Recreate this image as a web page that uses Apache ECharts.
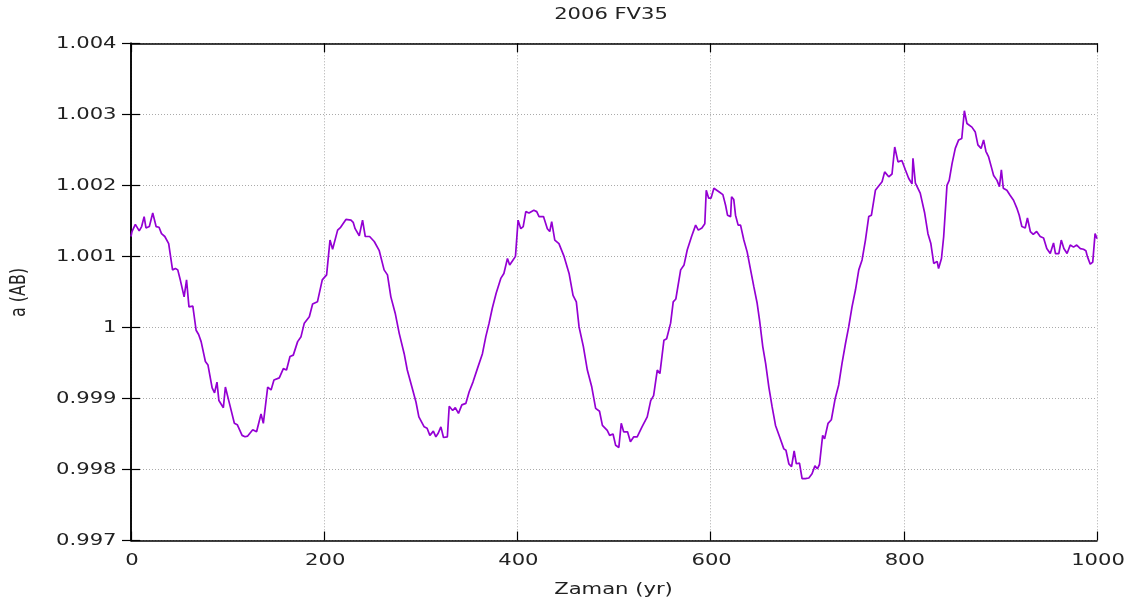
<!DOCTYPE html>
<html>
<head>
<meta charset="utf-8">
<script src="https://cdn.jsdelivr.net/npm/echarts@6/dist/echarts.min.js"></script>
<style>
html,body{margin:0;padding:0;background:#fff;}
#chart{width:1147px;height:605px;}
</style>
</head>
<body>
<div id="chart"></div>
<script>
const chartTitle = '2006 FV35';
const xAxisName = 'Zaman (yr)';
const yAxisName = 'a (AB)';
const xTicks = [0, 200, 400, 600, 800, 1000];
const yTicks = [0.997, 0.998, 0.999, 1.000, 1.001, 1.002, 1.003, 1.004];

const years = [
  0, 1, 4.5, 8.5, 11, 13.6, 15.5, 19, 22.5, 26, 29, 31.6, 35, 39, 43, 46, 48.4, 51, 55, 57.5,
  60, 64, 67.4, 70, 72.6, 77, 79.7, 84, 86.5, 89, 91, 95.6, 97.7, 101.9, 107, 110, 115, 118, 120.8, 126,
  130, 134.6, 137, 141.5, 145, 148, 153.5, 157.7, 161, 164.6, 168, 172.5, 176, 179.4, 184.6, 188, 193, 198, 202.5, 206,
  208.7, 213.9, 217, 222.5, 227.7, 230, 232, 236.3, 239.7, 242.5, 247, 251.8, 257, 262, 265.5, 269, 273.5, 277.6, 282.8, 286,
  290.8, 295, 298, 303.5, 306.5, 309.4, 313, 315.6, 318, 320.8, 323.5, 327.5, 329.4, 333, 335.7, 339, 342.5, 346.6, 350, 354,
  358.6, 363.8, 367.3, 370.7, 374, 378, 382.8, 386, 389.7, 392, 395, 398, 400.7, 403.5, 406, 408.7, 412, 417, 420, 422.4,
  427, 431, 433.5, 435.5, 438.7, 443, 448.3, 453.5, 457.6, 461, 463.8, 468.3, 472.4, 477, 481, 485, 488, 493, 495.5, 499,
  501.7, 505, 507.5, 510, 514, 517, 520.5, 524, 529, 534.4, 538, 541, 544.8, 547.5, 551.7, 554.5, 558.6, 561.3, 564, 569,
  572.5, 575.8, 580.3, 584.5, 587.3, 591, 594, 595.5, 598, 600.5, 603.4, 608.6, 612.7, 615.5, 617.5, 620.7, 621.7, 624, 625.8, 628.5,
  631, 634.4, 637.9, 641.4, 644.8, 648.2, 650.7, 654, 657, 660.3, 663.7, 667.2, 671.4, 675.8, 678, 681, 683.8, 686.5, 688.8, 692,
  694.7, 698, 701.7, 705, 708, 710.5, 712.7, 716, 718, 721.6, 725, 729, 732.6, 736, 739.6, 743, 746.4, 750, 753.4, 756.8,
  760.3, 763.7, 766.5, 770.6, 774, 777.5, 780.2, 784.4, 787.8, 790.6, 794, 798, 801.6, 805, 808.5, 809.5, 812, 817, 821.6, 825,
  828, 831, 834.5, 836, 839, 841.3, 844.7, 847, 850, 853.3, 856.8, 860, 862.7, 865.4, 870.5, 874, 876.7, 880, 882.6, 885,
  887.8, 890.6, 893, 896.5, 899, 901, 903, 906.7, 910, 913.6, 917, 919.5, 922.2, 925.7, 928, 931, 934, 937.5, 941.2, 944.7,
  948, 951.6, 955, 957, 960.5, 963, 965.7, 969, 972.3, 975.7, 979, 982.8, 986, 988.5, 990, 993, 995.6, 998, 1000
];

const aValues = [
  1.00128, 1.00135, 1.00145, 1.00136, 1.00142, 1.00156, 1.00140, 1.00142, 1.00161, 1.00142, 1.00141, 1.00132, 1.00128, 1.00118, 1.00081, 1.00083, 1.00081, 1.00067, 1.00043, 1.00067,
  1.00029, 1.00030, 0.99996, 0.99990, 0.99980, 0.99952, 0.99947, 0.99915, 0.99908, 0.99923, 0.99897, 0.99887, 0.99916, 0.99893, 0.99865, 0.99863, 0.99848, 0.99846, 0.99847, 0.99856,
  0.99853, 0.99878, 0.99865, 0.99916, 0.99912, 0.99926, 0.99929, 0.99942, 0.99940, 0.99959, 0.99961, 0.99980, 0.99987, 1.00006, 1.00015, 1.00033, 1.00036, 1.00067, 1.00074, 1.00123,
  1.00110, 1.00137, 1.00141, 1.00152, 1.00151, 1.00148, 1.00139, 1.00129, 1.00151, 1.00128, 1.00128, 1.00121, 1.00108, 1.00081, 1.00074, 1.00043, 1.00020, 0.99992, 0.99963, 0.99940,
  0.99916, 0.99895, 0.99874, 0.99860, 0.99858, 0.99848, 0.99854, 0.99846, 0.99851, 0.99860, 0.99845, 0.99846, 0.99889, 0.99883, 0.99887, 0.99879, 0.99891, 0.99893, 0.99909, 0.99923,
  0.99942, 0.99963, 0.99987, 1.00006, 1.00027, 1.00048, 1.00069, 1.00076, 1.00097, 1.00088, 1.00094, 1.00100, 1.00151, 1.00139, 1.00142, 1.00163, 1.00161, 1.00165, 1.00163, 1.00156,
  1.00156, 1.00139, 1.00135, 1.00149, 1.00123, 1.00118, 1.00100, 1.00076, 1.00045, 1.00036, 1.00001, 0.99973, 0.99940, 0.99916, 0.99886, 0.99882, 0.99862, 0.99855, 0.99848, 0.99850,
  0.99834, 0.99831, 0.99865, 0.99853, 0.99853, 0.99839, 0.99846, 0.99846, 0.99860, 0.99874, 0.99897, 0.99904, 0.99940, 0.99935, 0.99982, 0.99984, 1.00006, 1.00036, 1.00040, 1.00081,
  1.00088, 1.00109, 1.00128, 1.00144, 1.00137, 1.00140, 1.00146, 1.00193, 1.00182, 1.00182, 1.00196, 1.00191, 1.00187, 1.00172, 1.00158, 1.00156, 1.00184, 1.00180, 1.00158, 1.00144,
  1.00144, 1.00123, 1.00106, 1.00081, 1.00057, 1.00034, 1.00010, 0.99973, 0.99949, 0.99916, 0.99888, 0.99862, 0.99846, 0.99829, 0.99827, 0.99808, 0.99804, 0.99826, 0.99808, 0.99809,
  0.99787, 0.99787, 0.99788, 0.99794, 0.99805, 0.99801, 0.99807, 0.99848, 0.99843, 0.99865, 0.99870, 0.99900, 0.99919, 0.99949, 0.99977, 1.00001, 1.00029, 1.00053, 1.00081, 1.00095,
  1.00123, 1.00156, 1.00158, 1.00193, 1.00199, 1.00205, 1.00219, 1.00212, 1.00216, 1.00254, 1.00233, 1.00235, 1.00222, 1.00210, 1.00202, 1.00238, 1.00203, 1.00189, 1.00161, 1.00132,
  1.00118, 1.00090, 1.00093, 1.00083, 1.00097, 1.00128, 1.00200, 1.00207, 1.00231, 1.00252, 1.00264, 1.00266, 1.00305, 1.00287, 1.00282, 1.00275, 1.00257, 1.00252, 1.00264, 1.00248,
  1.00240, 1.00226, 1.00214, 1.00207, 1.00198, 1.00222, 1.00196, 1.00193, 1.00186, 1.00179, 1.00168, 1.00158, 1.00142, 1.00140, 1.00154, 1.00135, 1.00131, 1.00135, 1.00128, 1.00126,
  1.00111, 1.00104, 1.00119, 1.00104, 1.00104, 1.00123, 1.00111, 1.00104, 1.00116, 1.00113, 1.00116, 1.00111, 1.00110, 1.00108, 1.00100, 1.00089, 1.00092, 1.00132, 1.00125
];

const seriesData = years.map((x, i) => [x, aValues[i]]);
const fontFamily = '"DejaVu Sans", sans-serif';
const textColor = '#222';
const stretch = 1.32;
const fmtY = v => String(+(+v).toFixed(3));

const chart = echarts.init(document.getElementById('chart'));
const tickStyle = { show: true, inside: true, length: 9, lineStyle: { color: '#000', width: 1.2 } };
const lineAxis = { show: true, lineStyle: { color: '#000', width: 1.5 } };
const gridLine = { show: true, lineStyle: { color: '#aaa', type: [1, 2], width: 1 } };

chart.setOption({
  animation: false,
  backgroundColor: '#ffffff',
  grid: { left: 131, right: 50, top: 43.3, bottom: 64.5, show: false },
  xAxis: [{
    type: 'value', min: xTicks[0], max: xTicks[xTicks.length - 1], interval: 200,
    axisLine: lineAxis, axisTick: tickStyle, axisLabel: { show: false }, splitLine: gridLine
  }, {
    type: 'value', position: 'top', min: xTicks[0], max: xTicks[xTicks.length - 1], interval: 200,
    axisLine: lineAxis, axisTick: tickStyle, axisLabel: { show: false }, splitLine: { show: false }
  }],
  yAxis: [{
    type: 'value', min: yTicks[0], max: yTicks[yTicks.length - 1], interval: 0.001,
    axisLine: lineAxis, axisTick: tickStyle, axisLabel: { show: false }, splitLine: gridLine
  }, {
    type: 'value', position: 'right', min: yTicks[0], max: yTicks[yTicks.length - 1], interval: 0.001,
    axisLine: lineAxis, axisTick: tickStyle, axisLabel: { show: false }, splitLine: { show: false }
  }],
  series: [{
    type: 'line',
    data: seriesData,
    xAxisIndex: 0, yAxisIndex: 0,
    showSymbol: false,
    smooth: false,
    lineStyle: { color: '#9400d3', width: 1.7 },
    itemStyle: { color: '#9400d3' }
  }]
});

function txt(text, x, y, opts) {
  const o = Object.assign({ size: 16, align: 'center', valign: 'middle', rotation: 0, sx: stretch, sy: 1 }, opts || {});
  return {
    type: 'text', x: x, y: y, rotation: o.rotation, scaleX: o.sx, scaleY: o.sy, silent: true,
    style: {
      text: text, fill: textColor, fontFamily: fontFamily, fontSize: o.size,
      align: o.align, verticalAlign: o.valign, textAlign: o.align, textVerticalAlign: o.valign
    }
  };
}

const px = v => chart.convertToPixel({ xAxisIndex: 0 }, v);
const py = v => chart.convertToPixel({ yAxisIndex: 0 }, v);
const plotLeft = px(xTicks[0]);
const plotRight = px(xTicks[xTicks.length - 1]);
const plotTop = py(yTicks[yTicks.length - 1]);
const plotBottom = py(yTicks[0]);
const plotCx = (plotLeft + plotRight) / 2;
const plotCy = (plotTop + plotBottom) / 2;

const graphics = [];
graphics.push(txt(chartTitle, plotCx - 3, 15, { size: 15.5, sx: 1.36 }));
xTicks.forEach(v => graphics.push(txt(String(v), px(v) + 1, plotBottom + 20.5, { size: 16 })));
yTicks.forEach(v => graphics.push(txt(fmtY(v), plotLeft - 14.5, py(v) + 0.5, { size: 16, align: 'right' })));
graphics.push(txt(xAxisName, plotCx - 0.5, plotBottom + 49.5, { size: 16 }));
graphics.push(txt(yAxisName, 20, plotCy + 0.5, { size: 16, rotation: Math.PI / 2, sx: 1, sy: stretch }));

chart.setOption({ graphic: graphics });
</script>
</body>
</html>
